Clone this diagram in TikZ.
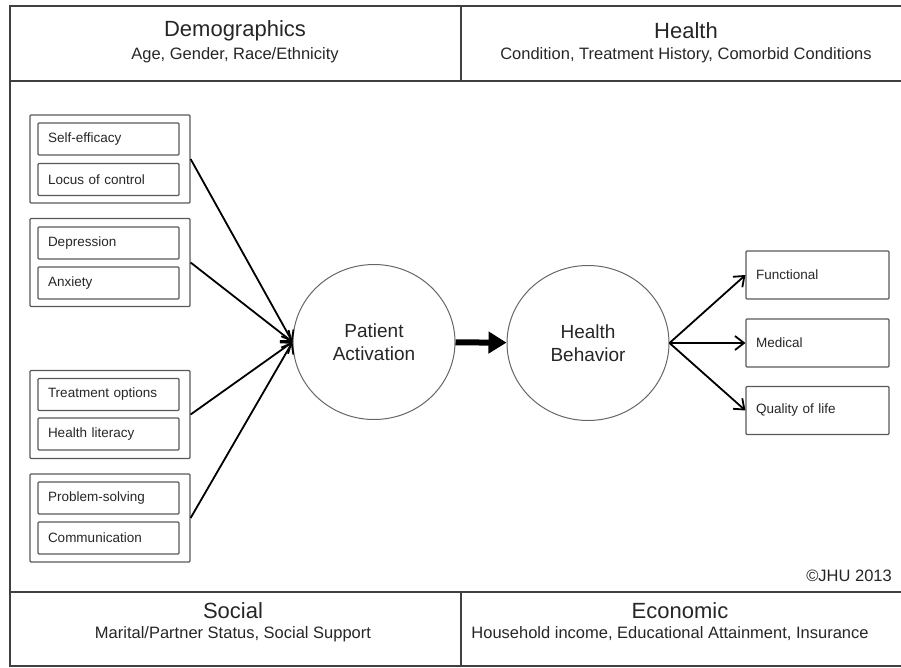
\documentclass[tikz,border=0pt]{standalone}
\usepackage{fontspec}
\setmainfont{Liberation Sans}
\usetikzlibrary{arrows.meta,positioning,shapes.geometric}

\tikzset{
  panel/.style={draw=black!75,line width=1.3pt},
  head/.style={font=\fontsize{22}{25}\selectfont,text=black!85,inner sep=0pt},
  sub/.style={font=\fontsize{16.5}{18}\selectfont,text=black!85,inner sep=0pt},
  grp/.style={draw=black!65,line width=1.2pt,rounded corners=1pt,minimum width=160pt,minimum height=88pt},
  item/.style={draw=black!65,line width=1.1pt,rounded corners=1pt,minimum width=141pt,minimum height=32pt,
    inner xsep=10pt,text width=121pt,align=left,font=\fontsize{13.5}{15}\selectfont,text=black!85},
  outcome/.style={draw=black!65,line width=1.1pt,rounded corners=1pt,minimum width=143pt,minimum height=48pt,
    inner xsep=10pt,text width=123pt,align=left,font=\fontsize{13.5}{15}\selectfont,text=black!85},
  construct/.style={ellipse,draw=black!60,line width=1pt,minimum width=162pt,minimum height=155pt,
    inner sep=0pt,align=center,font=\fontsize{19}{23}\selectfont,text=black!85},
  conn/.style={line width=1.8pt,-{Straight Barb[length=9pt,width=14pt]}},
  bigarrow/.style={line width=6pt,-{Triangle[length=18pt,width=21pt]}}
}

\begin{document}
\begin{tikzpicture}[x=1pt,y=-1pt]
\clip (0,0) rectangle (901,667);

% outer frame
\draw[panel] (10,6) rectangle (920,666);
\draw[panel] (10,81) -- (920,81) (10,592) -- (920,592);
\draw[panel] (461,6) -- (461,81) (461,592) -- (461,666);

% context panels
\node[head] (demo) at (235,31) {Demographics};
\node[sub] (demosub) at (235,55) {Age, Gender, Race/Ethnicity};
\node[head] (health) at (686,31) {Health};
\node[sub] (healthsub) at (686,55) {Condition, Treatment History, Comorbid Conditions};
\node[head] (social) at (233,611) {Social};
\node[sub] (socialsub) at (233,634) {Marital/Partner Status, Social Support};
\node[head] (econ) at (680,611) {Economic};
\node[sub] (econsub) at (670,634) {Household income, Educational Attainment, Insurance};
\node[sub,anchor=east] (jhu) at (892,576) {©JHU 2013};

% factor groups
\foreach \y [count=\n] in {159,262.5,414.5,518}
  \node[grp] (G\n) at (110,\y) {};
\foreach \t/\y [count=\n] in {Self-efficacy/139,Locus of control/179.5,Depression/243,Anxiety/283,
    Treatment options/394.5,Health literacy/434,Problem-solving/498,Communication/538}
  \node[item] (I\n) at (108.5,\y) {\t};

% constructs
\node[construct] (pa) at (374,342) {Patient\\Activation};
\node[construct] (hb) at (588,343) {Health\\Behavior};

% outcomes
\foreach \t/\y [count=\n] in {Functional/275,Medical/343,Quality of life/410.5}
  \node[outcome] (O\n) at (817.5,\y) {\t};

\foreach \n in {1,...,4}
  \draw[conn] (G\n.east) -- (pa.west);
\draw[bigarrow] (pa) -- (hb);
\foreach \n in {1,2,3}
  \draw[conn] (hb.east) -- (O\n.west);
\end{tikzpicture}
\end{document}
